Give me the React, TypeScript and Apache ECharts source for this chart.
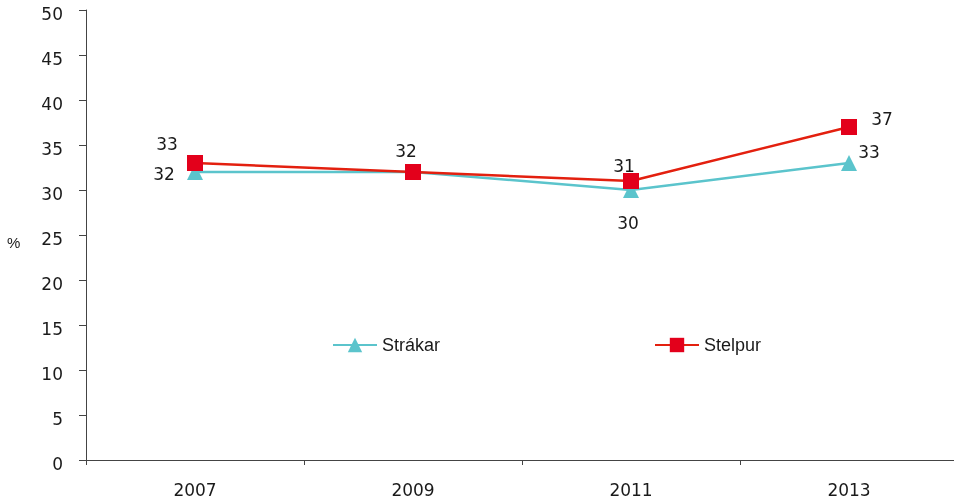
import React, { useEffect, useRef } from "react";
import * as echarts from "echarts";

const categories = ["2007", "2009", "2011", "2013"];
const strakar = [32, 32, 30, 33];
const stelpur = [33, 32, 31, 37];
const strakarLabelOffsets: ([number, number] | null)[] = [[-31, 2], null, [-3, 33], [20, -11]];
const stelpurLabelOffsets: ([number, number] | null)[] = [[-28, -19], [-7, -21], [-7, -15], [33, -8]];

const NUMFONT = "DejaVu Sans";
const FONT = "Liberation Sans";
const TEXT = "#1a1a1a";

function buildData(values: number[], offsets: ([number, number] | null)[]) {
  return values.map((v, i) => {
    const off = offsets[i];
    return {
      value: v,
      label: off
        ? { show: true, position: "inside", offset: off }
        : { show: false },
    };
  });
}

export default function App() {
  const ref = useRef<HTMLDivElement>(null);
  useEffect(() => {
    if (!ref.current) return;
    const chart = echarts.init(ref.current, null, { renderer: "svg" });
    chart.setOption({
      animation: false,
      textStyle: { fontFamily: FONT },
      grid: { left: 86, top: 10, width: 872, height: 450, outerBoundsMode: "none", containLabel: false },
      graphic: [
        {
          type: "text",
          left: 7,
          top: 235,
          style: { text: "%", font: `15px ${FONT}`, fill: TEXT },
        },
      ],
      legend: [
        {
          data: ["Strákar"],
          left: 332,
          top: 336,
          padding: 0,
          itemWidth: 44,
          itemHeight: 18,
          itemGap: 6,
          textStyle: { fontSize: 18, color: TEXT, fontFamily: FONT },
        },
        {
          data: ["Stelpur"],
          left: 654,
          top: 336,
          padding: 0,
          itemWidth: 44,
          itemHeight: 18,
          textStyle: { fontSize: 18, color: TEXT, fontFamily: FONT },
        },
      ],
      xAxis: {
        type: "category",
        data: categories,
        boundaryGap: true,
        axisLine: { lineStyle: { color: "#444", width: 1 } },
        axisTick: { show: true, length: 5, inside: false, lineStyle: { color: "#444" } },
        axisLabel: { fontSize: 17, color: TEXT, margin: 21, fontFamily: NUMFONT },
        splitLine: { show: false },
      },
      yAxis: {
        type: "value",
        min: 0,
        max: 50,
        interval: 5,
        axisLine: { show: true, lineStyle: { color: "#444", width: 1 } },
        axisTick: { show: true, length: 7, lineStyle: { color: "#444" } },
        axisLabel: {
          color: TEXT,
          margin: 23,
          formatter: "{a|{value}}",
          rich: {
            a: {
              fontSize: 17,
              fontFamily: NUMFONT,
              color: TEXT,
              padding: [8, 0, 0, 0],
            },
          },
        },
        splitLine: { show: false },
      },
      series: [
        {
          name: "Strákar",
          type: "line",
          data: buildData(strakar, strakarLabelOffsets),
          symbol: "triangle",
          symbolSize: 16,
          itemStyle: { color: "#5bc4cc" },
          lineStyle: { color: "#5bc4cc", width: 2.5 },
          label: { fontSize: 17, color: TEXT, fontFamily: NUMFONT },
          z: 2,
        },
        {
          name: "Stelpur",
          type: "line",
          data: buildData(stelpur, stelpurLabelOffsets),
          symbol: "rect",
          symbolSize: 16,
          itemStyle: { color: "#e3001b" },
          lineStyle: { color: "#e3200f", width: 2.5 },
          label: { fontSize: 17, color: TEXT, fontFamily: NUMFONT },
          z: 3,
        },
      ],
    });
    return () => chart.dispose();
  }, []);
  return (
    <div
      ref={ref}
      style={{ position: "fixed", left: 0, top: 0, width: 954, height: 502 }}
    />
  );
}
